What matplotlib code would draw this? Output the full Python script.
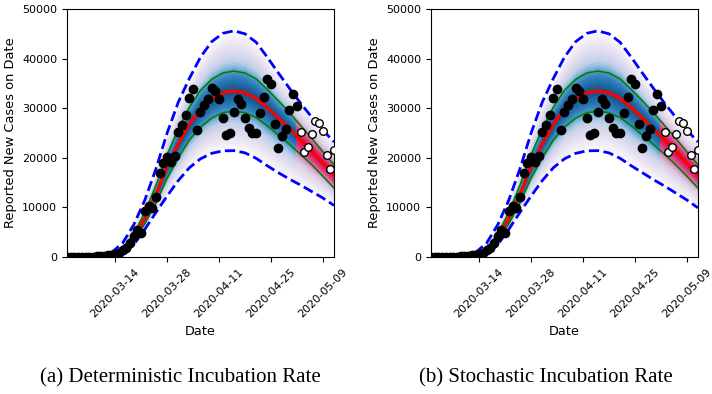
import numpy as np
import pandas as pd
import matplotlib
matplotlib.use('Agg')
import matplotlib.pyplot as plt
import matplotlib.dates as mdates
from matplotlib.colors import LinearSegmentedColormap
from matplotlib.patches import Rectangle

#=============== data ===============
# observed daily cases, 2020-03-01 .. 2020-05-02 (used for fitting)
obs_cases = [0, 0, 10, 20, 30, 50, 70, 100, 150, 200, 280, 380, 480,
             600, 750, 1400, 1750, 2760, 4230, 5440, 4780, 9270, 10280,
             9940, 12160, 16870, 19020, 20100, 19060, 20400, 25300, 26640,
             28660, 32010, 33830, 25640, 29260, 30670, 31880, 34160, 33560,
             31810, 27990, 24630, 25100, 29330, 31880, 30870, 27990, 26040,
             25100, 25100, 29130, 32210, 35970, 34900, 26850, 22010, 24300,
             25910, 29660, 32890, 30470]
# held out cases, 2020-05-03 .. 2020-05-12
test_cases = [25300, 21210, 22210, 24770, 27520, 26980, 25500, 20600,
              17720, 21480]

# model curves every 3 days, 2020-03-01 .. 2020-05-12
median = [30, 60, 120, 230, 450, 1400, 3900, 7800, 12600, 18200, 22800,
          26800, 29800, 31900, 33100, 33500, 33100, 32000, 30100, 28000,
          25900, 23600, 21300, 18900, 16500]
green_hi = [40, 80, 150, 280, 560, 1700, 4600, 9000, 14500, 20600, 25800,
            30200, 33600, 35800, 37100, 37500, 37100, 35900, 33800, 31500,
            29100, 26500, 23900, 21200, 18600]
green_lo = [25, 50, 100, 190, 370, 1150, 3300, 6700, 10900, 15900, 20000,
            23600, 26200, 28000, 29100, 29400, 29100, 28100, 26500, 24600,
            22700, 20700, 18600, 16300, 13900]
dash_hi = [40, 90, 180, 350, 900, 2800, 6500, 11500, 17800, 25000, 31200,
           36000, 40300, 43400, 45100, 45600, 45000, 43300, 40300, 37100,
           34000, 31000, 28200, 25600, 23200]
dash_lo_det = [10, 20, 40, 80, 150, 400, 2500, 5600, 9000, 12300, 15400,
               18000, 19800, 20900, 21400, 21450, 21000, 19900, 18400,
               17000, 15700, 14500, 13200, 11900, 10400]
dash_lo_sto = [10, 20, 40, 80, 150, 400, 2500, 5600, 9000, 12300, 15400,
               18000, 19800, 20900, 21400, 21450, 21000, 19900, 18400,
               17000, 15600, 14300, 12900, 11500, 9900]

panel_titles = ['(a) Deterministic Incubation Rate',
                '(b) Stochastic Incubation Rate']
tick_dates = ['2020-03-14', '2020-03-28', '2020-04-11', '2020-04-25',
              '2020-05-09']
forecast_start = '2020-05-01 18:00'

obs_dates = pd.date_range('2020-03-01', periods=len(obs_cases), freq='D')
test_dates = pd.date_range(obs_dates[-1] + pd.Timedelta(days=1),
                           periods=len(test_cases), freq='D')
curve_dates = pd.date_range('2020-03-01', periods=len(median), freq='3D')

blue_fan = LinearSegmentedColormap.from_list('bfan', [
    (0.0, '#14497a'), (0.12, '#1c629b'), (0.25, '#2b7bb9'),
    (0.36, '#4b95cb'), (0.46, '#8fbadd'), (0.56, '#c2d1e9'),
    (0.7, '#dcd9ed'), (0.85, '#eae6f3'), (1.0, '#f7f4fa')])
pink_fan = LinearSegmentedColormap.from_list('pfan', [
    (0.0, '#c0124a'), (0.12, '#d51f62'), (0.25, '#e04285'),
    (0.36, '#e073ab'), (0.46, '#d9a2cd'), (0.56, '#dbc8e3'),
    (0.7, '#e4daec'), (0.85, '#ede6f3'), (1.0, '#f7f4fa')])

plt.rcParams['font.family'] = 'DejaVu Sans'
fig = plt.figure(figsize=(7.12, 3.94), dpi=100)


def fan(ax, x, med, lo, hi, cmap, clip, n=22):
    for s in np.linspace(1, 0, n, endpoint=False):
        up = med + 0.96 * s * (hi - med)
        dn = med - 0.96 * s * (med - lo)
        poly = ax.fill_between(x, dn, up, color=cmap(s), lw=0, zorder=1)
        poly.set_clip_path(clip)


def draw_panel(ax, dash_lo):
    x = mdates.date2num(curve_dates)
    med = np.array(median, float)
    lo = np.array(dash_lo, float)
    hi = np.array(dash_hi, float)
    xf = mdates.date2num(pd.Timestamp(forecast_start))
    left = Rectangle((x[0] - 10, -1e6), xf - x[0] + 10, 2e6,
                     transform=ax.transData)
    right = Rectangle((xf, -1e6), 100, 2e6, transform=ax.transData)
    fan(ax, x, med, lo, hi, blue_fan, left)
    fan(ax, x, med, lo, hi, pink_fan, right)

    ax.plot(curve_dates, green_hi, color='green', lw=1.2, zorder=3)
    ax.plot(curve_dates, green_lo, color='green', lw=1.2, zorder=3)
    ax.plot(curve_dates, median, color='red', lw=2.3, zorder=4)
    ax.plot(curve_dates, dash_hi, color='blue', ls='--', lw=2, zorder=4)
    ax.plot(curve_dates, dash_lo, color='blue', ls='--', lw=2, zorder=4)

    ax.plot(obs_dates, obs_cases, 'o', color='black', ms=6, zorder=5)
    ax.plot(test_dates, test_cases, 'o', mfc='white', mec='black',
            mew=1, ms=5.5, zorder=5)

    ax.set_xlim(obs_dates[0], test_dates[-1])
    ax.set_ylim(0, 50000)
    ax.set_yticks(np.arange(0, 50001, 10000))
    ax.set_xticks(pd.to_datetime(tick_dates))
    ax.xaxis.set_major_formatter(mdates.DateFormatter('%Y-%m-%d'))
    plt.setp(ax.get_xticklabels(), rotation=45, ha='center')
    ax.tick_params(labelsize=8)
    ax.set_xlabel('Date', fontsize=9.3)
    ax.set_ylabel('Reported New Cases on Date', fontsize=9.4)


ax1 = fig.add_axes([0.0941, 0.3477, 0.375, 0.6294])
draw_panel(ax1, dash_lo_det)
ax2 = fig.add_axes([0.6053, 0.3477, 0.375, 0.6294])
draw_panel(ax2, dash_lo_sto)

fig.text(0.254, 0.04, panel_titles[0], ha='center', va='center',
         family='Liberation Serif', fontsize=15)
fig.text(0.767, 0.04, panel_titles[1], ha='center', va='center',
         family='Liberation Serif', fontsize=15)

fig.savefig('out.png', dpi=100)
